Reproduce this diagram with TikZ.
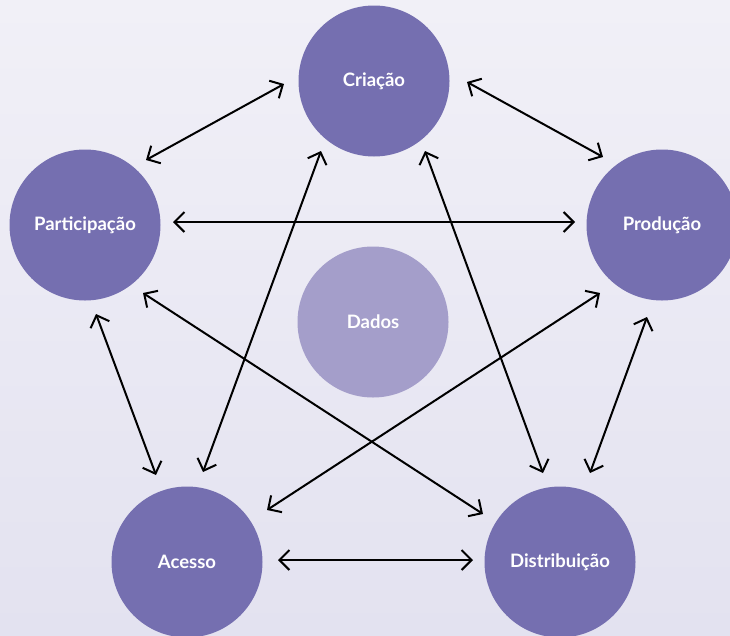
\documentclass[tikz,border=0pt]{standalone}
\usepackage{fontspec}
\setmainfont{Lato}
\usetikzlibrary{arrows.meta, calc}
\definecolor{roxo}{HTML}{756FB0}
\definecolor{lilas}{HTML}{A49ECA}
\definecolor{fundotopo}{HTML}{F1F0F7}
\definecolor{fundobase}{HTML}{E3E2F0}
\tikzset{
        etapa/.style={circle, fill=roxo, minimum size=151pt, inner sep=0pt, text=white,
                      font=\bfseries\fontsize{18.5}{20}\selectfont}, % the five outer circles
        centro/.style={etapa, fill=lilas}, % the circle in the middle
        seta/.style={{Straight Barb[length=10pt,width=20pt]}-{Straight Barb[length=10pt,width=20pt]},
                     line width=2pt}, % double headed arrows
    }

\begin{document}
\begin{tikzpicture}[x=1pt, y=-1pt]
    \useasboundingbox (0,0) rectangle (730,635);
    \fill[top color=fundotopo, bottom color=fundobase] (0,0) rectangle (730,635);
    \node[etapa] (cri) at (374,81) {Criação};
    \node[etapa] (par) at (85,225) {Participação};
    \node[etapa] (pro) at (662,225) {Produção};
    \node[etapa] (ace) at (187,562) {Acesso};
    \node[etapa] (dis) at (560,562) {Distribuição};
    \node[centro] (dad) at (373,322) {Dados};
    \draw[seta] ($(cri)+(-90,3)$) -- ($(par)+(61,-65)$);
    \draw[seta] ($(cri)+(93,1)$) -- ($(pro)+(-59,-68)$);
    \draw[seta] ($(par)+(88,-3)$) -- ($(pro)+(-87,-3)$);
    \draw[seta] ($(par)+(11,89)$) -- ($(ace)+(-31,-87)$);
    \draw[seta] ($(par)+(58,68)$) -- ($(dis)+(-77,-48)$);
    \draw[seta] ($(cri)+(-53,70)$) -- ($(ace)+(16,-90)$);
    \draw[seta] ($(cri)+(51,70)$) -- ($(dis)+(-17,-89)$);
    \draw[seta] ($(pro)+(-62,68)$) -- ($(ace)+(80,-52)$);
    \draw[seta] ($(pro)+(-15,92)$) -- ($(dis)+(30,-89)$);
    \draw[seta] ($(ace)+(91,-2)$) -- ($(dis)+(-87,-2)$);
\end{tikzpicture}
\end{document}
